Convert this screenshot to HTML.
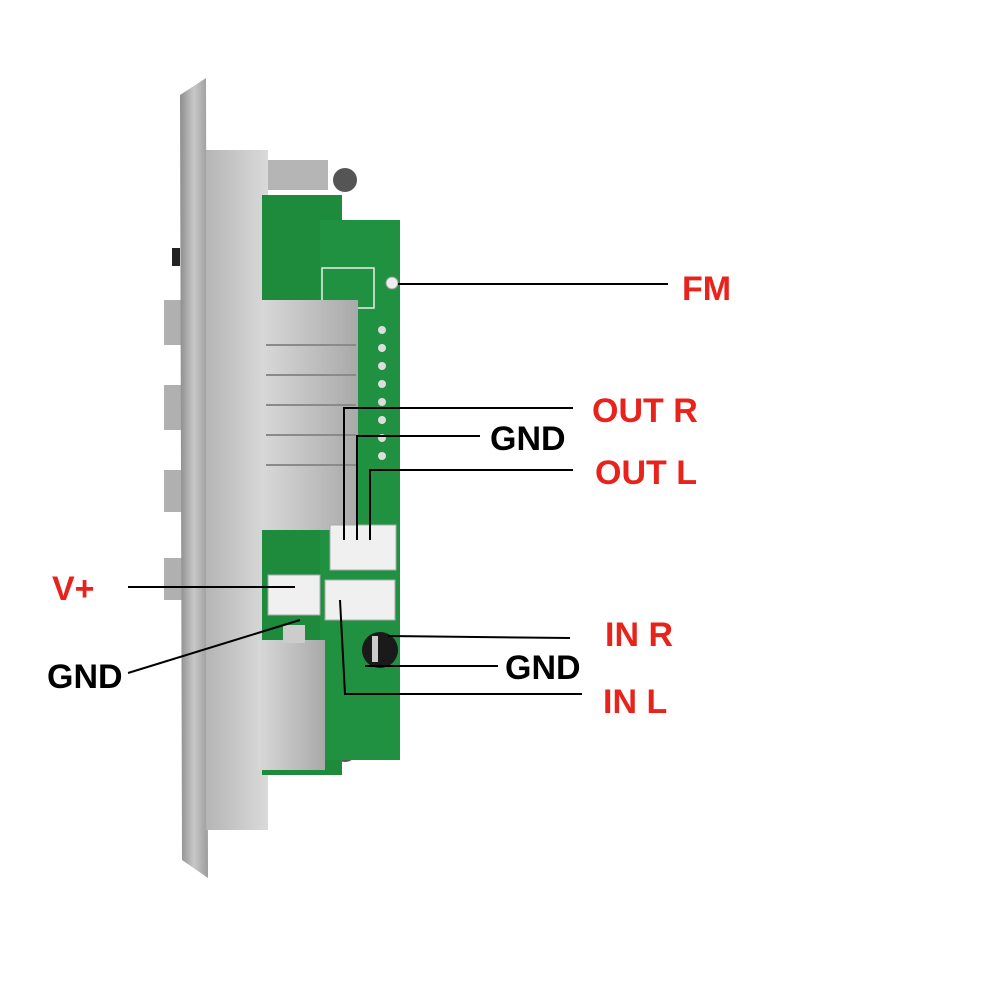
<!DOCTYPE html>
<html><head><meta charset="utf-8"><style>
html,body{margin:0;padding:0;background:#fff}
svg{display:block}
text{font-family:"Liberation Sans",sans-serif;font-weight:bold;font-size:34px}
</style></head><body>
<svg width="1000" height="1000" viewBox="0 0 1000 1000">
<defs>
<linearGradient id="pan" x1="0" x2="1"><stop offset="0" stop-color="#8e8e8e"/><stop offset="0.5" stop-color="#c8c8c8"/><stop offset="1" stop-color="#9c9c9c"/></linearGradient>
<linearGradient id="body" x1="0" x2="1"><stop offset="0" stop-color="#b5b5b5"/><stop offset="1" stop-color="#dadada"/></linearGradient>
<linearGradient id="hs" x1="0" x2="1"><stop offset="0" stop-color="#d8d8d8"/><stop offset="1" stop-color="#a9a9a9"/></linearGradient>
</defs>
<rect x="172" y="248" width="8" height="18" fill="#222"/>
<rect x="164" y="300" width="18" height="45" fill="#b0b0b0"/>
<rect x="164" y="385" width="18" height="45" fill="#b0b0b0"/>
<rect x="164" y="470" width="18" height="42" fill="#b0b0b0"/>
<rect x="164" y="558" width="18" height="42" fill="#b0b0b0"/>
<polygon points="180,95 206,78 208,878 182,860" fill="url(#pan)"/>
<rect x="206" y="150" width="62" height="680" fill="url(#body)"/>
<rect x="268" y="160" width="60" height="30" fill="#b5b5b5"/>
<circle cx="345" cy="180" r="12" fill="#555"/>
<circle cx="345" cy="750" r="12" fill="#555"/>
<rect x="262" y="195" width="80" height="580" fill="#1d8a3c"/>
<rect x="320" y="220" width="80" height="540" fill="#1f9140"/>
<rect x="322" y="268" width="52" height="40" fill="none" stroke="#e8f0e8" stroke-width="1.5"/>
<g fill="#ddd">
<circle cx="382" cy="330" r="4"/><circle cx="382" cy="348" r="4"/><circle cx="382" cy="366" r="4"/><circle cx="382" cy="384" r="4"/><circle cx="382" cy="402" r="4"/><circle cx="382" cy="420" r="4"/><circle cx="382" cy="438" r="4"/><circle cx="382" cy="456" r="4"/>
</g>
<circle cx="392" cy="283" r="6" fill="#eee" stroke="#999"/>
<rect x="262" y="300" width="96" height="230" fill="url(#hs)"/>
<g stroke="#8a8a8a" stroke-width="2">
<line x1="266" y1="345" x2="356" y2="345"/><line x1="266" y1="375" x2="356" y2="375"/><line x1="266" y1="405" x2="356" y2="405"/><line x1="266" y1="435" x2="356" y2="435"/><line x1="266" y1="465" x2="356" y2="465"/>
</g>
<rect x="330" y="525" width="66" height="45" fill="#f0f0f0" stroke="#aaa"/>
<rect x="325" y="580" width="70" height="40" fill="#f0f0f0" stroke="#aaa"/>
<rect x="268" y="575" width="52" height="40" fill="#f0f0f0" stroke="#aaa"/>
<rect x="258" y="640" width="67" height="130" fill="url(#hs)"/>
<rect x="283" y="625" width="22" height="18" fill="#ccc"/>
<circle cx="380" cy="650" r="18" fill="#1a1a1a"/>
<rect x="372" y="636" width="6" height="26" fill="#ccc"/>
<g stroke="#000" stroke-width="2" fill="none">
<line x1="398" y1="284" x2="668" y2="284"/>
<polyline points="344,540 344,408 573,408"/>
<polyline points="357,540 357,436 480,436"/>
<polyline points="370,540 370,470 573,470"/>
<line x1="128" y1="587" x2="295" y2="587"/>
<line x1="128" y1="673" x2="300" y2="620"/>
<line x1="388" y1="636" x2="570" y2="638"/>
<line x1="365" y1="666" x2="498" y2="666"/>
<polyline points="340,600 345,694 582,694"/>
</g>
<text x="682" y="300" fill="#e8231c">FM</text>
<text x="592" y="422" fill="#e8231c">OUT R</text>
<text x="490" y="450" fill="#000">GND</text>
<text x="595" y="484" fill="#e8231c">OUT L</text>
<text x="52" y="600" fill="#e8231c">V+</text>
<text x="47" y="688" fill="#000">GND</text>
<text x="605" y="646" fill="#e8231c">IN R</text>
<text x="505" y="679" fill="#000">GND</text>
<text x="603" y="713" fill="#e8231c">IN L</text>
</svg>
</body></html>
